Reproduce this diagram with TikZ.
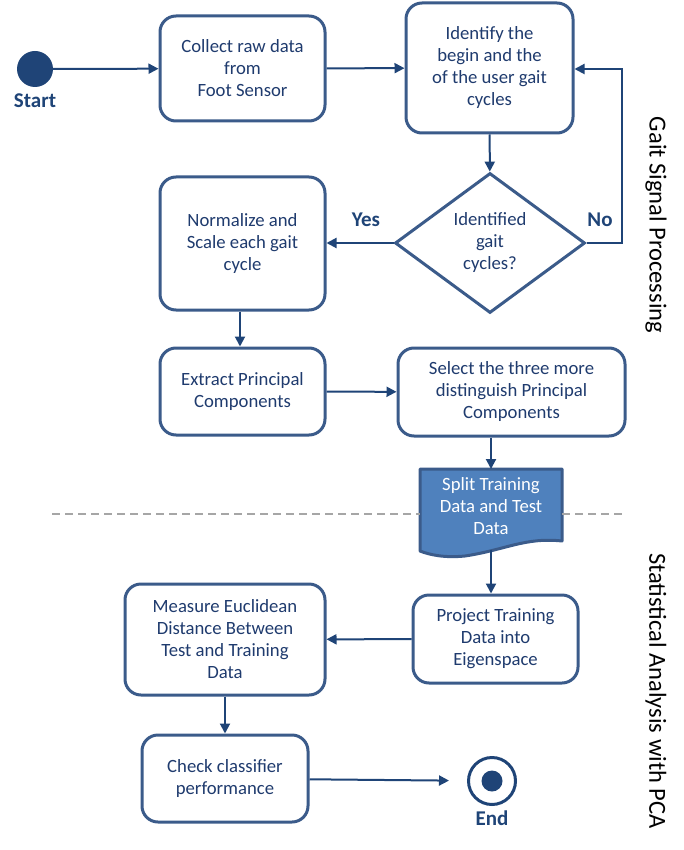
\documentclass[tikz,border=0pt]{standalone}
\usepackage{fontspec}
\setmainfont{Carlito}
\usepackage{xcolor}
\usepackage{tikz}
\usetikzlibrary{arrows.meta,shapes.geometric,positioning}
\definecolor{boxline}{HTML}{3B5B8A}
\definecolor{txtblue}{HTML}{1F3B6E}
\definecolor{flowblue}{HTML}{1F4477}
\definecolor{docfill}{HTML}{4F81BD}
\definecolor{sepgray}{HTML}{A6A6A6}

\begin{document}
\begin{tikzpicture}[x=1pt, y=-1pt,
  abox/.style={draw=boxline, line width=3pt, rounded corners=16pt, fill=white, inner sep=0pt,
    align=center, text=txtblue, font=\fontsize{18.7}{22}\selectfont},
  decide/.style={diamond, draw=boxline, line width=3pt, fill=white, inner sep=0pt,
    minimum width=190pt, minimum height=140pt, align=center, text=txtblue,
    font=\fontsize{18.7}{22}\selectfont},
  flow/.style={flowblue, line width=2pt, -{Triangle[length=10pt,width=10pt]}},
  tag/.style={font=\fontsize{21}{24}\selectfont\bfseries, text=flowblue},
  side/.style={rotate=-90, font=\fontsize{24.5}{28}\selectfont, text=black}
]
\useasboundingbox (0,0) rectangle (683,850);

% Start and first row
\node[circle, fill=flowblue, minimum size=36pt, inner sep=0pt] (start) at (35,69) {};
\node[tag] (startlbl) at (35,101) {Start};
\node[abox, minimum width=165pt, minimum height=105pt] (collect) at (242.5,68.5) {Collect raw data\\from\\Foot Sensor};
\node[abox, minimum width=167pt, minimum height=130pt] (ident) at (489.5,68) {Identify the\\begin and the\\of the user gait\\cycles};
\draw[flow] (start)--(collect);
\draw[flow] (collect)--(ident);

% Decision
\node[decide] (dec) at (490,243) {Identified\\gait\\cycles?};
\draw[flow] (ident)--(dec);
\coordinate (loop1) at (622,243);
\coordinate (loop2) at (622,69);
\draw[flow] (dec.east)--(loop1)--(loop2)--(ident.east |- loop2);
\node[tag] (no) at (600,220) {No};
\node[abox, minimum width=165pt, minimum height=133pt] (norm) at (242.5,243.5) {Normalize and\\Scale each gait\\cycle};
\draw[flow] (dec.west)--(dec.west -| norm.east);
\node[tag] (yes) at (366,220) {Yes};

% Principal components
\node[abox, minimum width=165pt, minimum height=87pt] (extract) at (242.5,391.5) {Extract Principal\\Components};
\node[abox, minimum width=227pt, minimum height=88pt] (select) at (511.5,392) {Select the three more\\distinguish Principal\\Components};
\draw[flow] (norm.south -| 240,0)--(extract.north -| 240,0);
\draw[flow] (extract)--(select);

% Split document
\coordinate (splittop) at (491,469);
\coordinate (splitbot) at (491,550);
\draw[draw=boxline, line width=3pt, fill=docfill, line join=round]
  (420,469) -- (562,469) -- (562,541)
  .. controls (525,537) and (505,550) .. (465,556)
  .. controls (445,558) and (430,555) .. (420,551) -- cycle;
\node[align=center, text=white, font=\fontsize{18.7}{22}\selectfont] (split) at (491,506) {Split Training\\Data and Test\\Data};
\draw[flow] (select.south -| splittop)--(splittop);

% Separator between the two phases
\draw[sepgray, line width=1.8pt, dash pattern=on 8pt off 5pt] (52,514)--(420,514);
\draw[sepgray, line width=1.8pt, dash pattern=on 8pt off 5pt] (562,514)--(625,514);
\node[side] (gsp) at (656,225) {Gait Signal Processing};
\node[side] (sapca) at (656,691) {Statistical Analysis with PCA};

% Second phase
\node[abox, minimum width=165pt, minimum height=88pt] (project) at (495.5,639) {Project Training\\Data into\\Eigenspace};
\node[abox, minimum width=200pt, minimum height=111pt] (measure) at (225,639.5) {Measure Euclidean\\Distance Between\\Test and Training\\Data};
\node[abox, minimum width=166pt, minimum height=87pt] (check) at (225,778.5) {Check classifier\\performance};
\draw[flow] (splitbot)--(splitbot |- project.north);
\draw[flow] (project)--(measure);
\draw[flow] (measure)--(check);

% End
\node[circle, draw=flowblue, line width=3pt, minimum size=47pt, inner sep=0pt] (end) at (492,781) {};
\node[circle, fill=flowblue, minimum size=21pt, inner sep=0pt] (endin) at (end) {};
\node[tag] (endlbl) at (492,818) {End};
\draw[flow, shorten >=18pt] (check)--(end);
\end{tikzpicture}
\end{document}
